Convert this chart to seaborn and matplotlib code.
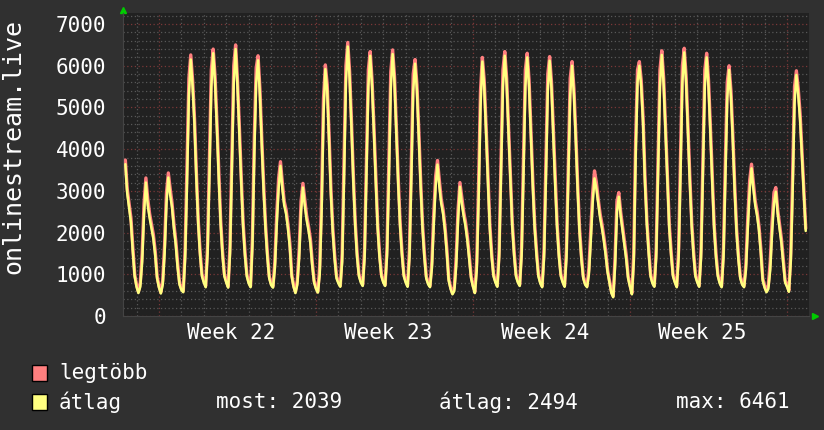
import datetime
import pandas as pd
import matplotlib
matplotlib.use('Agg')
from matplotlib import pyplot as plt
from matplotlib.patches import Rectangle
import matplotlib.dates as mdates
import seaborn as sns

# 2-hourly samples, first one Sat 2023-05-27 12:00
atlag = [
    3640, 2950, 2600, 2250, 1550, 950,                                   # Sat 27 May
    700, 550, 700, 1300, 2450, 3200, 2650, 2350, 2100, 1850, 1450, 900,   # Sun 28
    680, 540, 750, 1500, 2700, 3320, 2900, 2600, 2100, 1700, 1150, 750,   # Mon 29
    620, 570, 1400, 3200, 5300, 6150, 5500, 4600, 3300, 2200, 1450, 950,  # Tue 30
    800, 690, 1500, 3400, 5500, 6300, 5600, 4500, 3300, 2200, 1450, 950,  # Wed 31
    800, 680, 1500, 3500, 5600, 6400, 5500, 4400, 3200, 2150, 1450, 950,  # Thu 1 Jun
    780, 690, 1700, 3900, 5600, 6130, 5300, 4100, 3000, 2100, 1400, 900,  # Fri 2
    740, 680, 1150, 2200, 3050, 3600, 3050, 2650, 2450, 2100, 1650, 950,  # Sat 3
    700, 550, 750, 1400, 2500, 3080, 2650, 2300, 2050, 1750, 1200, 800,   # Sun 4
    650, 560, 1000, 2500, 4800, 5920, 5400, 4200, 2900, 2000, 1350, 900,  # Mon 5
    780, 700, 1300, 3300, 5600, 6461, 5700, 4500, 3200, 2150, 1400, 950,  # Tue 6
    800, 720, 1400, 3400, 5500, 6240, 5500, 4400, 3200, 2100, 1400, 950,  # Wed 7
    800, 720, 1450, 3300, 5450, 6280, 5600, 4350, 3150, 2150, 1450, 950,  # Thu 8
    800, 700, 1400, 3300, 5400, 6050, 5400, 4300, 3100, 2100, 1400, 900,  # Fri 9
    760, 690, 1150, 2200, 3100, 3630, 3100, 2700, 2450, 2050, 1500, 850,  # Sat 10
    650, 520, 600, 1200, 2300, 3100, 2700, 2400, 2150, 1800, 1350, 900,   # Sun 11
    700, 550, 1100, 2800, 5000, 6100, 5500, 4400, 3200, 2100, 1400, 950,  # Mon 12
    800, 700, 1400, 3400, 5500, 6240, 5550, 4400, 3200, 2150, 1450, 950,  # Tue 13
    800, 720, 1450, 3400, 5500, 6200, 5500, 4300, 3100, 2100, 1450, 950,  # Wed 14
    780, 690, 1400, 3300, 5400, 6120, 5450, 4300, 3100, 2100, 1400, 950,  # Thu 15
    800, 700, 1400, 3300, 5300, 6000, 5300, 4200, 3000, 2000, 1350, 900,  # Fri 16
    750, 690, 1000, 1800, 2700, 3300, 3050, 2700, 2350, 2100, 1800, 1450, # Sat 17
    1050, 800, 550, 450, 1200, 2500, 2860, 2400, 2050, 1700, 1350, 900,   # Sun 18
    700, 520, 1300, 3800, 5600, 6000, 5500, 4600, 3200, 2200, 1500, 950,  # Mon 19
    780, 700, 1400, 3400, 5500, 6260, 5550, 4400, 3200, 2100, 1450, 950,  # Tue 20
    800, 690, 1400, 3400, 5600, 6320, 5600, 4400, 3200, 2150, 1450, 950,  # Wed 21
    800, 700, 1400, 3400, 5500, 6200, 5500, 4400, 3200, 2100, 1400, 950,  # Thu 22
    780, 690, 1400, 3300, 5200, 5900, 5250, 4200, 3000, 2000, 1350, 900,  # Fri 23
    750, 690, 1100, 2100, 3000, 3540, 3050, 2650, 2400, 2050, 1500, 850,  # Sat 24
    680, 570, 650, 1100, 2000, 2700, 2980, 2450, 2100, 1750, 1250, 800,   # Sun 25
    700, 580, 1300, 3000, 5100, 5780, 5300, 4700, 3800, 2900, 2039,       # Mon 26
]

legtobb = [
    3740, 3050, 2700, 2350, 1650, 1000,
    750, 580, 800, 1500, 2700, 3310, 2800, 2450, 2200, 1950, 1550, 950,
    720, 570, 850, 1700, 2950, 3430, 3050, 2700, 2200, 1800, 1250, 800,
    660, 600, 1600, 3600, 5700, 6260, 5650, 4750, 3450, 2300, 1550, 1000,
    850, 720, 1700, 3800, 5900, 6400, 5750, 4650, 3450, 2300, 1550, 1000,
    850, 710, 1700, 3900, 6000, 6500, 5650, 4550, 3350, 2250, 1550, 1000,
    830, 720, 1900, 4300, 5950, 6240, 5450, 4250, 3150, 2200, 1500, 950,
    780, 710, 1300, 2450, 3300, 3700, 3200, 2750, 2550, 2200, 1750, 1000,
    740, 580, 850, 1600, 2750, 3180, 2800, 2400, 2150, 1850, 1300, 850,
    690, 590, 1200, 2900, 5200, 6020, 5550, 4350, 3050, 2100, 1450, 950,
    830, 730, 1500, 3700, 6000, 6560, 5850, 4650, 3350, 2250, 1500, 1000,
    850, 750, 1600, 3800, 5900, 6340, 5650, 4550, 3350, 2200, 1500, 1000,
    850, 750, 1650, 3700, 5850, 6380, 5750, 4500, 3300, 2250, 1550, 1000,
    850, 730, 1600, 3700, 5800, 6150, 5550, 4450, 3250, 2200, 1500, 950,
    800, 720, 1300, 2450, 3350, 3730, 3250, 2800, 2550, 2150, 1600, 900,
    690, 550, 700, 1400, 2550, 3200, 2850, 2500, 2250, 1900, 1450, 950,
    740, 580, 1300, 3200, 5400, 6200, 5650, 4550, 3350, 2200, 1500, 1000,
    850, 730, 1600, 3800, 5900, 6340, 5700, 4550, 3350, 2250, 1550, 1000,
    850, 750, 1650, 3800, 5900, 6300, 5650, 4450, 3250, 2200, 1550, 1000,
    830, 720, 1600, 3700, 5800, 6220, 5600, 4450, 3250, 2200, 1500, 1000,
    850, 730, 1600, 3700, 5700, 6100, 5450, 4350, 3150, 2100, 1450, 950,
    790, 720, 1150, 2050, 2950, 3480, 3200, 2800, 2450, 2200, 1900, 1550,
    1100, 850, 600, 480, 1400, 2750, 2960, 2500, 2150, 1800, 1450, 950,
    740, 550, 1500, 4200, 5900, 6100, 5650, 4750, 3350, 2300, 1600, 1000,
    830, 730, 1600, 3800, 5900, 6360, 5700, 4550, 3350, 2200, 1550, 1000,
    850, 720, 1600, 3800, 6000, 6420, 5750, 4550, 3350, 2250, 1550, 1000,
    850, 730, 1600, 3800, 5900, 6300, 5650, 4550, 3350, 2200, 1500, 1000,
    830, 720, 1600, 3700, 5600, 6000, 5400, 4350, 3150, 2100, 1450, 950,
    790, 720, 1250, 2350, 3250, 3640, 3200, 2750, 2500, 2150, 1600, 900,
    720, 600, 750, 1300, 2250, 2950, 3080, 2550, 2200, 1850, 1350, 850,
    740, 610, 1500, 3400, 5500, 5880, 5450, 4850, 3950, 3000, 2100,
]

weeks = [22, 23, 24, 25, 26]
y_ticks = [0, 1000, 2000, 3000, 4000, 5000, 6000, 7000]
legend_names = ['legtöbb', 'átlag']
stats = ['most: 2039', 'átlag: 2494', 'max: 6461']

times = pd.date_range('2023-05-27 12:00', periods=len(atlag), freq='2h')
df = pd.DataFrame({'time': times, 'legtobb': legtobb, 'atlag': atlag})

bg = '#303030'
txt = '#ffffff'
pink = '#ff7f7f'
yellow = '#ffff80'
font = 'DejaVu Sans Mono'

sns.set_style('dark')
plt.rcParams['font.family'] = [font]

fig = plt.figure(figsize=(8.24, 4.30), dpi=100, facecolor=bg)
ax = fig.add_axes([123 / 824, 114 / 430, 686 / 824, 303 / 430])
ax.set_facecolor('#212121')

sns.lineplot(data=df, x='time', y='legtobb', ax=ax, color=pink, lw=2.4)
sns.lineplot(data=df, x='time', y='atlag', ax=ax, color=yellow, lw=1.8)

ax.set_xlim(pd.Timestamp('2023-05-27 09:30'), pd.Timestamp('2023-06-26 23:30'))
ax.set_ylim(0, 7265)
ax.set_xlabel('')
ax.set_ylabel('')

# grid: days / weeks and 200 / 1000
mondays = [pd.Timestamp(datetime.date.fromisocalendar(2023, w, 1)) for w in weeks]
ax.set_xticks(mondays)
ax.set_xticklabels(['Week %d' % w for w in weeks[:-1]] + [''])
ax.xaxis.set_minor_locator(mdates.DayLocator())
ax.set_yticks(y_ticks)
ax.set_yticklabels([str(v) for v in y_ticks])
ax.yaxis.set_minor_locator(matplotlib.ticker.MultipleLocator(200))

ax.grid(which='major', color='#7a3838', linestyle=(0, (1, 2)), lw=0.9)
ax.grid(which='minor', color='#585858', linestyle=(0, (1, 2)), lw=0.9)
ax.set_axisbelow(True)

ax.tick_params(axis='both', which='both', colors='#555555', labelcolor=txt, labelsize=15)
ax.tick_params(axis='x', which='major', length=3, pad=2, colors='#7a3838', labelcolor=txt)
ax.tick_params(axis='x', which='minor', length=3)
ax.tick_params(axis='y', which='major', length=3, pad=9, colors='#7a3838', labelcolor=txt)
ax.tick_params(axis='y', which='minor', length=2)

# shift week labels to the middle of the week
offset = matplotlib.transforms.ScaledTranslation(72.5 / 100, 0, fig.dpi_scale_trans)
for lab in ax.get_xticklabels():
    lab.set_transform(lab.get_transform() + offset)

for s in ax.spines.values():
    s.set_visible(False)
ax.spines['left'].set_visible(True)
ax.spines['bottom'].set_visible(True)
ax.spines['left'].set_color('#444444')
ax.spines['bottom'].set_color('#444444')

# rrd style arrows
ax.plot([0], [1.01], marker='^', color='#00cc00', markersize=5, transform=ax.transAxes, clip_on=False)
ax.plot([1.009], [0], marker='>', color='#00cc00', markersize=5, transform=ax.transAxes, clip_on=False)

fig.text(13 / 824, 1 - 147 / 430, 'onlinestream.live', rotation=90, color=txt,
         fontsize=18, ha='center', va='center', family=font)

# legend
sq_colors = [pink, yellow]
rows_y = [373, 402]
for name, c, yy in zip(legend_names, sq_colors, rows_y):
    fig.patches.append(Rectangle((32 / 824, 1 - (yy + 8) / 430), 15 / 824, 16 / 430,
                                 transform=fig.transFigure, facecolor=c, edgecolor='black', lw=1))
    fig.text(59 / 824, 1 - yy / 430, name, color=txt, fontsize=15, va='center', family=font)
for s, xx in zip(stats, [216, 439, 676]):
    fig.text(xx / 824, 1 - 402 / 430, s, color=txt, fontsize=15, va='center', family=font)

fig.savefig('out.png', dpi=100, facecolor=bg)
